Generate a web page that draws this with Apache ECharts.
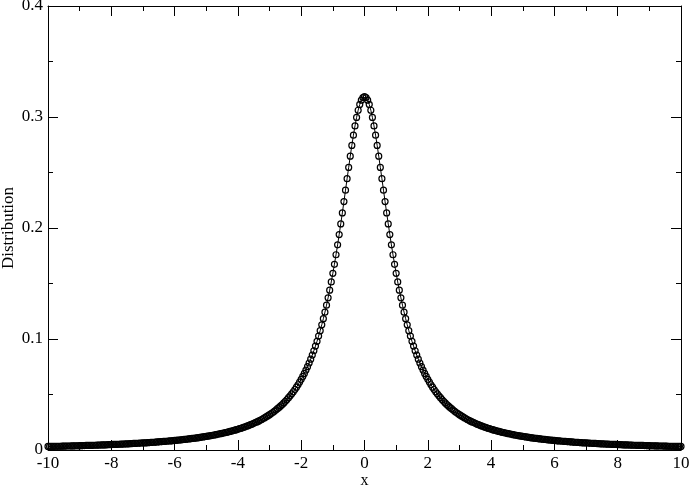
<!DOCTYPE html>
<html>
<head>
<meta charset="utf-8">
<script src="https://cdn.jsdelivr.net/npm/echarts@6/dist/echarts.min.js"></script>
<style>
  html, body { margin: 0; padding: 0; background: #fff; }
  #chart { width: 692px; height: 486px; }
</style>
</head>
<body>
<div id="chart"></div>
<script>
// sample positions along x
const xValues = [
  -10,-9.95,-9.9,-9.85,-9.8,-9.75,-9.7,-9.65,-9.6,-9.55,-9.5,-9.45,-9.4,-9.35,-9.3,-9.25,-9.2,-9.15,-9.1,-9.05,
  -9,-8.95,-8.9,-8.85,-8.8,-8.75,-8.7,-8.65,-8.6,-8.55,-8.5,-8.45,-8.4,-8.35,-8.3,-8.25,-8.2,-8.15,-8.1,-8.05,
  -8,-7.95,-7.9,-7.85,-7.8,-7.75,-7.7,-7.65,-7.6,-7.55,-7.5,-7.45,-7.4,-7.35,-7.3,-7.25,-7.2,-7.15,-7.1,-7.05,
  -7,-6.95,-6.9,-6.85,-6.8,-6.75,-6.7,-6.65,-6.6,-6.55,-6.5,-6.45,-6.4,-6.35,-6.3,-6.25,-6.2,-6.15,-6.1,-6.05,
  -6,-5.95,-5.9,-5.85,-5.8,-5.75,-5.7,-5.65,-5.6,-5.55,-5.5,-5.45,-5.4,-5.35,-5.3,-5.25,-5.2,-5.15,-5.1,-5.05,
  -5,-4.95,-4.9,-4.85,-4.8,-4.75,-4.7,-4.65,-4.6,-4.55,-4.5,-4.45,-4.4,-4.35,-4.3,-4.25,-4.2,-4.15,-4.1,-4.05,
  -4,-3.95,-3.9,-3.85,-3.8,-3.75,-3.7,-3.65,-3.6,-3.55,-3.5,-3.45,-3.4,-3.35,-3.3,-3.25,-3.2,-3.15,-3.1,-3.05,
  -3,-2.95,-2.9,-2.85,-2.8,-2.75,-2.7,-2.65,-2.6,-2.55,-2.5,-2.45,-2.4,-2.35,-2.3,-2.25,-2.2,-2.15,-2.1,-2.05,
  -2,-1.95,-1.9,-1.85,-1.8,-1.75,-1.7,-1.65,-1.6,-1.55,-1.5,-1.45,-1.4,-1.35,-1.3,-1.25,-1.2,-1.15,-1.1,-1.05,
  -1,-0.95,-0.9,-0.85,-0.8,-0.75,-0.7,-0.65,-0.6,-0.55,-0.5,-0.45,-0.4,-0.35,-0.3,-0.25,-0.2,-0.15,-0.1,-0.05,
  0,0.05,0.1,0.15,0.2,0.25,0.3,0.35,0.4,0.45,0.5,0.55,0.6,0.65,0.7,0.75,0.8,0.85,0.9,0.95,
  1,1.05,1.1,1.15,1.2,1.25,1.3,1.35,1.4,1.45,1.5,1.55,1.6,1.65,1.7,1.75,1.8,1.85,1.9,1.95,
  2,2.05,2.1,2.15,2.2,2.25,2.3,2.35,2.4,2.45,2.5,2.55,2.6,2.65,2.7,2.75,2.8,2.85,2.9,2.95,
  3,3.05,3.1,3.15,3.2,3.25,3.3,3.35,3.4,3.45,3.5,3.55,3.6,3.65,3.7,3.75,3.8,3.85,3.9,3.95,
  4,4.05,4.1,4.15,4.2,4.25,4.3,4.35,4.4,4.45,4.5,4.55,4.6,4.65,4.7,4.75,4.8,4.85,4.9,4.95,
  5,5.05,5.1,5.15,5.2,5.25,5.3,5.35,5.4,5.45,5.5,5.55,5.6,5.65,5.7,5.75,5.8,5.85,5.9,5.95,
  6,6.05,6.1,6.15,6.2,6.25,6.3,6.35,6.4,6.45,6.5,6.55,6.6,6.65,6.7,6.75,6.8,6.85,6.9,6.95,
  7,7.05,7.1,7.15,7.2,7.25,7.3,7.35,7.4,7.45,7.5,7.55,7.6,7.65,7.7,7.75,7.8,7.85,7.9,7.95,
  8,8.05,8.1,8.15,8.2,8.25,8.3,8.35,8.4,8.45,8.5,8.55,8.6,8.65,8.7,8.75,8.8,8.85,8.9,8.95,
  9,9.05,9.1,9.15,9.2,9.25,9.3,9.35,9.4,9.45,9.5,9.55,9.6,9.65,9.7,9.75,9.8,9.85,9.9,9.95,
  10
]

// distribution values
const distValues = [
  0.0032,
  0.0032,0.0032,0.0032,0.0033,0.0033,0.0033,0.0034,0.0034,0.0035,0.0035,
  0.0035,0.0036,0.0036,0.0036,0.0037,0.0037,0.0038,0.0038,0.0038,0.0039,
  0.0039,0.0040,0.0040,0.0041,0.0041,0.0042,0.0042,0.0042,0.0043,0.0043,
  0.0044,0.0044,0.0045,0.0046,0.0046,0.0047,0.0047,0.0048,0.0048,0.0049,
  0.0050,0.0050,0.0051,0.0051,0.0052,0.0053,0.0053,0.0054,0.0055,0.0056,
  0.0056,0.0057,0.0058,0.0059,0.0059,0.0060,0.0061,0.0062,0.0063,0.0064,
  0.0065,0.0065,0.0066,0.0067,0.0068,0.0069,0.0070,0.0071,0.0073,0.0074,
  0.0075,0.0076,0.0077,0.0078,0.0079,0.0081,0.0082,0.0083,0.0085,0.0086,
  0.0087,0.0089,0.0090,0.0092,0.0093,0.0095,0.0097,0.0098,0.0100,0.0102,
  0.0104,0.0106,0.0107,0.0109,0.0111,0.0114,0.0116,0.0118,0.0120,0.0122,
  0.0125,0.0127,0.0130,0.0132,0.0135,0.0138,0.0141,0.0144,0.0147,0.0150,
  0.0153,0.0156,0.0160,0.0163,0.0167,0.0171,0.0175,0.0179,0.0183,0.0187,
  0.0192,0.0196,0.0201,0.0206,0.0211,0.0217,0.0222,0.0228,0.0234,0.0240,
  0.0247,0.0253,0.0260,0.0268,0.0275,0.0283,0.0291,0.0300,0.0309,0.0318,
  0.0328,0.0338,0.0349,0.0360,0.0372,0.0384,0.0397,0.0410,0.0424,0.0439,
  0.0455,0.0471,0.0488,0.0506,0.0525,0.0545,0.0566,0.0588,0.0612,0.0637,
  0.0663,0.0690,0.0720,0.0751,0.0784,0.0818,0.0855,0.0894,0.0936,0.0979,
  0.1026,0.1075,0.1128,0.1183,0.1242,0.1305,0.1371,0.1440,0.1514,0.1592,
  0.1673,0.1759,0.1848,0.1941,0.2037,0.2136,0.2238,0.2341,0.2444,0.2546,
  0.2647,0.2744,0.2836,0.2920,0.2996,0.3061,0.3113,0.3152,0.3175,
  0.3183,0.3175,0.3152,0.3113,0.3061,0.2996,0.2920,0.2836,0.2744,0.2647,
  0.2546,0.2444,0.2341,0.2238,0.2136,0.2037,0.1941,0.1848,0.1759,0.1673,
  0.1592,0.1514,0.1440,0.1371,0.1305,0.1242,0.1183,0.1128,0.1075,0.1026,
  0.0979,0.0936,0.0894,0.0855,0.0818,0.0784,0.0751,0.0720,0.0690,0.0663,
  0.0637,0.0612,0.0588,0.0566,0.0545,0.0525,0.0506,0.0488,0.0471,0.0455,
  0.0439,0.0424,0.0410,0.0397,0.0384,0.0372,0.0360,0.0349,0.0338,0.0328,
  0.0318,0.0309,0.0300,0.0291,0.0283,0.0275,0.0268,0.0260,0.0253,0.0247,
  0.0240,0.0234,0.0228,0.0222,0.0217,0.0211,0.0206,0.0201,0.0196,0.0192,
  0.0187,0.0183,0.0179,0.0175,0.0171,0.0167,0.0163,0.0160,0.0156,0.0153,
  0.0150,0.0147,0.0144,0.0141,0.0138,0.0135,0.0132,0.0130,0.0127,0.0125,
  0.0122,0.0120,0.0118,0.0116,0.0114,0.0111,0.0109,0.0107,0.0106,0.0104,
  0.0102,0.0100,0.0098,0.0097,0.0095,0.0093,0.0092,0.0090,0.0089,0.0087,
  0.0086,0.0085,0.0083,0.0082,0.0081,0.0079,0.0078,0.0077,0.0076,0.0075,
  0.0074,0.0073,0.0071,0.0070,0.0069,0.0068,0.0067,0.0066,0.0065,0.0065,
  0.0064,0.0063,0.0062,0.0061,0.0060,0.0059,0.0059,0.0058,0.0057,0.0056,
  0.0056,0.0055,0.0054,0.0053,0.0053,0.0052,0.0051,0.0051,0.0050,0.0050,
  0.0049,0.0048,0.0048,0.0047,0.0047,0.0046,0.0046,0.0045,0.0044,0.0044,
  0.0043,0.0043,0.0042,0.0042,0.0042,0.0041,0.0041,0.0040,0.0040,0.0039,
  0.0039,0.0038,0.0038,0.0038,0.0037,0.0037,0.0036,0.0036,0.0036,0.0035,
  0.0035,0.0035,0.0034,0.0034,0.0033,0.0033,0.0033,0.0032,0.0032,0.0032,
  0.0032
]

const fontFamily = '"Liberation Serif", "DejaVu Serif", serif'

const chart = echarts.init(document.getElementById('chart'), null, { renderer: 'canvas' })

const axisBase = (pos, show) => ({
  position: pos,
  axisLine: { show: true, onZero: false, lineStyle: { color: '#000', width: 1 } },
  axisTick: { show: true, inside: true, length: 10, lineStyle: { color: '#000', width: 1 } },
  minorTick: { show: true, splitNumber: 2, length: 5, lineStyle: { color: '#000', width: 1 } },
  splitLine: { show: false },
  minorSplitLine: { show: false },
  axisLabel: {
    show: show,
    color: '#000',
    fontFamily: fontFamily,
    fontSize: 17,
    margin: 5
  }
})

const option = {
  backgroundColor: '#fff',
  animation: false,
  grid: {
    left: 48,
    right: 11,
    top: 6,
    bottom: 36,
    outerBoundsMode: 'none',
    containLabel: false
  },
  xAxis: [
    Object.assign(axisBase('bottom', true), {
      type: 'value', min: -10, max: 10, interval: 2,
      name: 'x', nameLocation: 'middle', nameGap: 23, nameMoveOverlap: false,
      nameTextStyle: { color: '#000', fontFamily: fontFamily, fontSize: 16 }
    }),
    Object.assign(axisBase('top', false), {
      type: 'value', min: -10, max: 10, interval: 2
    })
  ],
  yAxis: [
    Object.assign(axisBase('left', true), {
      type: 'value', min: 0, max: 0.4, interval: 0.1,
      name: 'Distribution', nameLocation: 'middle', nameGap: 31, nameMoveOverlap: false,
      nameTextStyle: { color: '#000', fontFamily: fontFamily, fontSize: 17 }
    }),
    Object.assign(axisBase('right', false), {
      type: 'value', min: 0, max: 0.4, interval: 0.1
    })
  ],
  series: [
    {
      type: 'line',
      data: xValues.map((x, i) => [x, distValues[i]]),
      xAxisIndex: 0,
      yAxisIndex: 0,
      symbol: 'circle',
      symbolSize: 6,
      showAllSymbol: true,
      lineStyle: { color: '#000', width: 1 },
      itemStyle: { color: 'rgba(255,255,255,0)', borderColor: '#000', borderWidth: 1.2 }
    }
  ]
}

chart.setOption(option)
</script>
</body>
</html>
